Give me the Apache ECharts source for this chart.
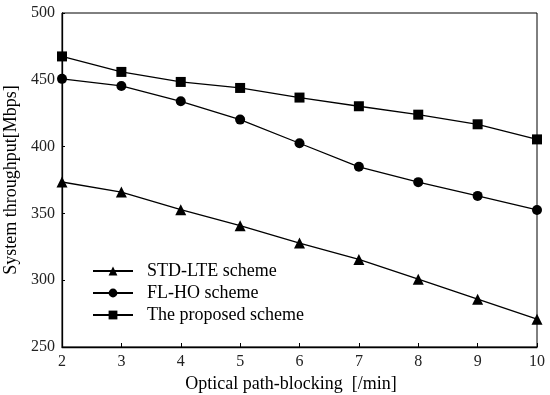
<!DOCTYPE html>
<html><head><meta charset="utf-8">
<script src="https://cdn.jsdelivr.net/npm/echarts@6/dist/echarts.min.js"></script>
<style>html,body{margin:0;padding:0;background:#fff}#c{width:550px;height:395px}</style>
</head><body><div id="c"></div>
<script>
var categories = ['2','3','4','5','6','7','8','9','10'];
var stdLte = [373.5, 366, 352.8, 340.8, 327.8, 315.5, 300.8, 285.8, 270.8];
var flHo = [450.7, 445.4, 433.9, 420.2, 402.5, 384.9, 373.4, 363.1, 352.6];
var proposed = [467.5, 455.9, 448.4, 443.9, 436.7, 430.2, 423.9, 416.7, 405.4];
var seriesNames = ['STD-LTE scheme', 'FL-HO scheme', 'The proposed scheme'];
var yTicks = [250, 300, 350, 400, 450, 500];

var font = '"Liberation Serif", "Times New Roman", serif';
var chart = echarts.init(document.getElementById('c'));
function mk(name, data, sym, size) {
  return {name: name, type: 'line', data: data, symbol: sym, symbolSize: size,
    lineStyle: {color: '#000', width: 1.3}, itemStyle: {color: '#000'},
    animation: false};
}
chart.setOption({
  animation: false,
  grid: {left: 62, right: 13, top: 13, bottom: 48, show: true, borderColor: '#000', borderWidth: 1,
    outerBoundsMode: 'none', containLabel: false},
  xAxis: {
    type: 'category', data: categories, boundaryGap: false,
    name: 'Optical path-blocking  [/min]', nameLocation: 'middle', nameGap: 28,
    nameTextStyle: {fontFamily: font, fontSize: 18, color: '#000', padding: [0, 17, 0, 0]},
    axisLine: {lineStyle: {color: '#000', width: 1.3}},
    axisTick: {inside: true, length: 4, lineStyle: {color: '#000'}},
    axisLabel: {fontFamily: font, fontSize: 16, color: '#222', margin: 7},
    splitLine: {show: false}
  },
  yAxis: {
    type: 'value', min: yTicks[0], max: yTicks[yTicks.length-1], interval: 50,
    name: 'System throughput[Mbps]', nameLocation: 'middle', nameGap: 38,
    nameTextStyle: {fontFamily: font, fontSize: 18, color: '#000'},
    axisLine: {show: true, lineStyle: {color: '#000', width: 1.3}},
    axisTick: {show: true, inside: true, length: 3, lineStyle: {color: '#000'}},
    axisLabel: {fontFamily: font, fontSize: 16, color: '#222', margin: 7},
    splitLine: {show: false}
  },
  legend: {
    orient: 'vertical', left: 92, top: 262, padding: 0, itemWidth: 40, itemHeight: 11, itemGap: 4,
    textStyle: {fontFamily: font, fontSize: 18, color: '#000', padding: [0,0,0,9]},
    data: seriesNames
  },
  series: [
    mk(seriesNames[0], stdLte, 'triangle', 11),
    mk(seriesNames[1], flHo, 'circle', 10),
    mk(seriesNames[2], proposed, 'rect', 10)
  ]
});
</script></body></html>
